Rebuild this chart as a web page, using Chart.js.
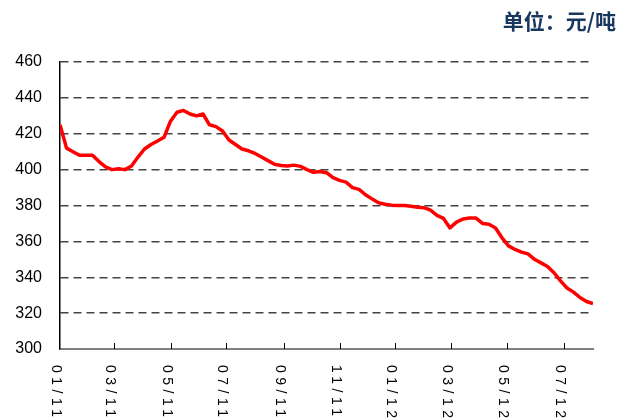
<!DOCTYPE html>
<html>
<head>
<meta charset="utf-8">
<script src="https://cdn.jsdelivr.net/npm/chart.js@4/dist/chart.umd.min.js"></script>
<style>
    html, body { margin: 0; padding: 0; background: #fff; }
</style>
</head>
<body>
<canvas id="myChart" width="628" height="419"></canvas>
<script>
// weekly price, Jan 2011 - Aug 2012
const prices = [
    425, 412, 410, 408, 408, 408, 404.5, 401.5, 400, 400.5,
    400, 402, 407, 411.5, 414, 416, 418, 427, 432, 433,
    431, 430, 431, 425, 424, 421.5, 416.5, 414, 411.5, 410.5,
    409, 407, 405, 403, 402.3, 402, 402.5, 401.8, 400, 398.5,
    399, 398.3, 395.5, 394, 393, 390, 389, 386, 383.7, 381.5,
    380.7, 380.2, 380, 380, 379.6, 379, 378.8, 377.4, 374.5, 372.8,
    367.5, 370.7, 372.5, 373, 373, 370, 369.5, 367.5, 362, 357.5,
    355.5, 354, 353, 350, 348, 346, 342.5, 338, 334, 331.7,
    328.7, 326.5, 325.3
];
const tickLabels = ["01/11", "03/11", "05/11", "07/11", "09/11", "11/11", "01/12", "03/12", "05/12", "07/12"];
const tickWeeks = [0, 8.35, 17.1, 25.6, 34.4, 43.1, 51.6, 60.1, 68.7, 77.5];
const unitText = "单位：元/吨";

const customDraw = {
    id: "customDraw",
    afterDraw(chart) {
        const ctx = chart.ctx;
        const xs = chart.scales.x;
        const bottom = chart.chartArea.bottom;
        ctx.save();
        ctx.strokeStyle = "#000";
        ctx.lineWidth = 1;
        ctx.fillStyle = "#000";
        tickWeeks.forEach((w, i) => {
            const px = Math.round(xs.getPixelForValue(w)) + 0.5;
            if (i > 0) {
                ctx.beginPath();
                ctx.moveTo(px, bottom);
                ctx.lineTo(px, bottom - 6);
                ctx.stroke();
            }
            ctx.save();
            ctx.translate(px - 5, bottom + 16);
            ctx.rotate(Math.PI / 2);
            ctx.font = '14px "Liberation Sans"';
            ctx.letterSpacing = "4.5px";
            ctx.textAlign = "left";
            ctx.textBaseline = "middle";
            ctx.fillText(tickLabels[i], 0, 0);
            ctx.restore();
        });
        // unit title, top right
        ctx.font = 'bold 21px "Noto Sans CJK SC"';
        ctx.fillStyle = "#17375E";
        ctx.textAlign = "right";
        ctx.textBaseline = "middle";
        ctx.fillText(unitText, 616, 21);
        ctx.restore();
    }
};

var ctx = document.getElementById("myChart");
var config = {
    type: "line",
    data: {
        datasets: [{
            data: prices.map((v, i) => ({x: i, y: v})),
            borderColor: "#FF0000",
            borderWidth: 3.5,
            borderJoinStyle: "round",
            pointRadius: 0,
            tension: 0,
            fill: false
        }]
    },
    options: {
        responsive: false,
        animation: false,
        layout: {
            padding: {top: 62, right: 35, left: 0, bottom: 0}
        },
        plugins: {
            legend: {display: false},
            tooltip: {enabled: false}
        },
        scales: {
            x: {
                type: "linear",
                min: 0,
                max: 82,
                ticks: {display: false},
                grid: {display: false},
                border: {display: true, color: "#808080", width: 2},
                afterFit: scale => { scale.height = 70; }
            },
            y: {
                min: 300,
                max: 460,
                ticks: {
                    stepSize: 20,
                    padding: 18,
                    color: "#000",
                    font: {family: "Liberation Sans", size: 16}
                },
                grid: {
                    drawTicks: false,
                    lineWidth: 1.5,
                    color: c => c.tick && c.tick.value === 300 ? "rgba(0,0,0,0)" : "#444"
                },
                border: {display: true, color: "#000", width: 1.5, dash: [8, 5]},
                afterFit: scale => { scale.width = 60; }
            }
        }
    },
    plugins: [customDraw]
};
var myChart = new Chart(ctx, config);
</script>
</body>
</html>
